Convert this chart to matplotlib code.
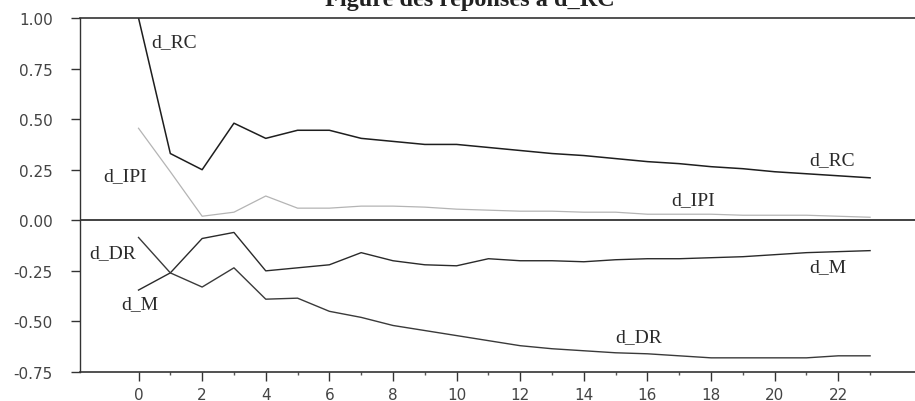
import numpy as np
import matplotlib.pyplot as plt

periods = np.arange(0, 24)

d_RC = [1.00, 0.33, 0.25, 0.48, 0.405, 0.445, 0.445, 0.405, 0.39, 0.375, 0.375,
        0.36, 0.345, 0.33, 0.32, 0.305, 0.29, 0.28, 0.265, 0.255, 0.24, 0.23, 0.22, 0.21]
d_IPI = [0.455, 0.24, 0.02, 0.04, 0.12, 0.06, 0.06, 0.07, 0.07, 0.065, 0.055,
         0.05, 0.045, 0.045, 0.04, 0.04, 0.03, 0.03, 0.03, 0.025, 0.025, 0.025, 0.02, 0.015]
d_M = [-0.345, -0.26, -0.09, -0.06, -0.25, -0.235, -0.22, -0.16, -0.20, -0.22, -0.225,
       -0.19, -0.20, -0.20, -0.205, -0.195, -0.19, -0.19, -0.185, -0.18, -0.17, -0.16, -0.155, -0.15]
d_DR = [-0.085, -0.26, -0.33, -0.235, -0.39, -0.385, -0.45, -0.48, -0.52, -0.545, -0.57,
        -0.595, -0.62, -0.635, -0.645, -0.655, -0.66, -0.67, -0.68, -0.68, -0.68, -0.68, -0.67, -0.67]

series = [
    (d_RC, '#1e1e1e', 1.1),
    (d_IPI, '#b4b4b4', 0.9),
    (d_M, '#2a2a2a', 1.0),
    (d_DR, '#3a3a3a', 1.0),
]

# name, x, y (data coords)
labels = [
    ('d_RC', 0.4, 0.885),
    ('d_IPI', -1.1, 0.22),
    ('d_RC', 21.1, 0.30),
    ('d_IPI', 16.75, 0.10),
    ('d_DR', -1.55, -0.16),
    ('d_M', -0.55, -0.41),
    ('d_M', 21.1, -0.23),
    ('d_DR', 15.0, -0.575),
]

y_ticks = [1.0, 0.75, 0.5, 0.25, 0.0, -0.25, -0.5, -0.75]
y_ticklabels = ['1.00', '0.75', '0.50', '0.25', '0.00', '-0.25', '-0.50', '-0.75']

fig = plt.figure(figsize=(9.15, 4.02), dpi=100)
ax = fig.add_axes([80 / 915, 29 / 402, 1 - 80 / 915 + 0.01, 354 / 402])

for vals, col, lw in series:
    ax.plot(periods, vals, color=col, lw=lw)

ax.axhline(0, color='#333333', lw=1.3)

for name, x, y in labels:
    ax.text(x, y, name, family='Liberation Serif', fontsize=14, color='#2a2a2a',
            ha='left', va='center')

ax.set_xlim(-1.84, 24.7)
ax.set_ylim(-0.75, 1.0)
ax.set_xticks(np.arange(0, 23, 2))
ax.set_xticks(np.arange(1, 24, 2), minor=True)
ax.set_yticks(y_ticks)
ax.set_yticklabels(y_ticklabels)

ax.spines['right'].set_visible(False)
for s in ['left', 'top', 'bottom']:
    ax.spines[s].set_color('#333333')
    ax.spines[s].set_linewidth(1.2)
ax.spines['left'].set_linewidth(1.0)

ax.tick_params(axis='y', which='major', direction='out', length=6.5, width=1,
               color='#333333', labelsize=11, labelcolor='#444444', pad=13)
ax.tick_params(axis='x', which='major', direction='out', length=6.5, width=1,
               color='#333333', labelsize=11, labelcolor='#444444', pad=4)
ax.tick_params(axis='x', which='minor', direction='out', length=2.5, width=1, color='#555555')
for lab in ax.get_xticklabels() + ax.get_yticklabels():
    lab.set_family('DejaVu Sans')

fig.text(0.514, 1 - 6 / 402, 'Figure des réponses à d_RC', family='Liberation Serif',
         fontweight='bold', fontsize=17.5, color='#222222', ha='center', va='baseline')

fig.savefig('out.png', dpi=100)
